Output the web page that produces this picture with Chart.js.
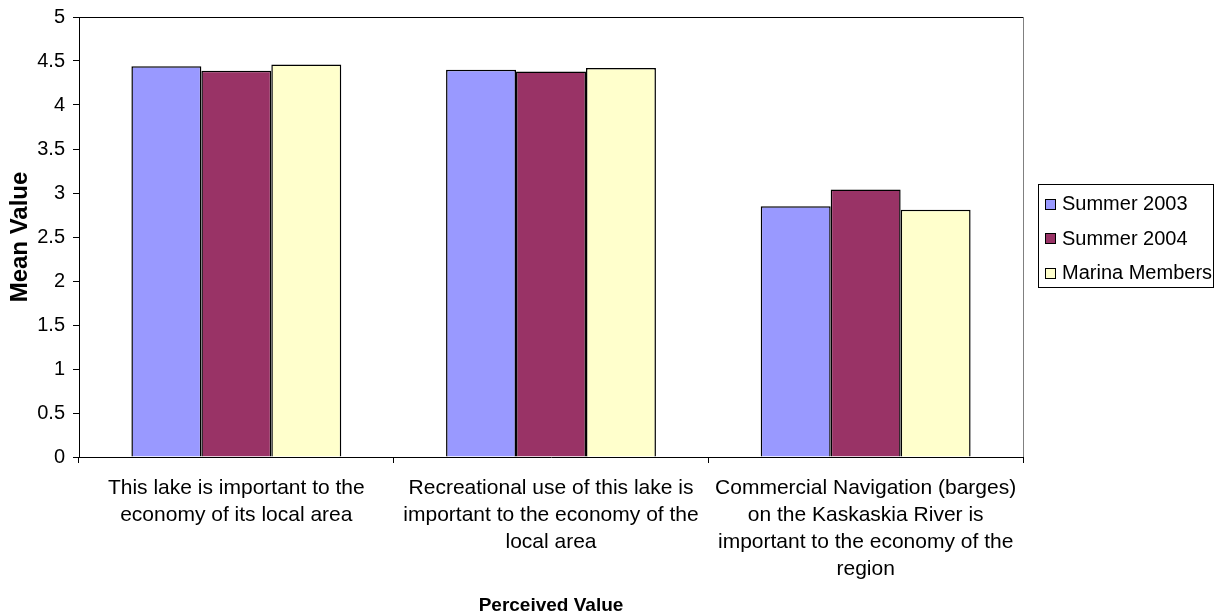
<!DOCTYPE html>
<html>
<head>
<meta charset="utf-8">
<script src="https://cdn.jsdelivr.net/npm/chart.js@4"></script>
<style>
  body { margin: 0; background: #fff; }
  #wrap { width: 1216px; height: 615px; position: relative; }
</style>
</head>
<body>
<div id="wrap"><canvas id="myChart"></canvas></div>
<script>
// categories (multi-line labels)
var categorias = [
    ['This lake is important to the', 'economy of its local area'],
    ['Recreational use of this lake is', 'important to the economy of the', 'local area'],
    ['Commercial Navigation (barges)', 'on the Kaskaskia River is', 'important to the economy of the', 'region']
];
var verao2003 = [4.44, 4.40, 2.85];
var verao2004 = [4.39, 4.38, 3.04];
var marina = [4.46, 4.42, 2.81];
var nomesSeries = ['Summer 2003', 'Summer 2004', 'Marina Members'];
var coresSeries = ['#9999FF', '#993366', '#FFFFCC'];

var fonte = 'Liberation Sans, Arial, sans-serif';

// moldura do gráfico + legenda desenhada à mão
var molduraLegenda = {
    id: 'molduraLegenda',
    afterDatasetsDraw: function (chart) {
        var ctx = chart.ctx;
        var a = chart.chartArea;
        ctx.save();
        ctx.lineWidth = 1;
        ctx.strokeStyle = '#000';
        ctx.beginPath();
        ctx.moveTo(a.left, a.top + 0.5);
        ctx.lineTo(a.right, a.top + 0.5);
        ctx.stroke();
        ctx.strokeStyle = '#808080';
        ctx.beginPath();
        ctx.moveTo(a.right + 0.5, a.top);
        ctx.lineTo(a.right + 0.5, a.bottom);
        ctx.stroke();

        // legenda
        var lx = 1038, ly = 184, lw = 175, lh = 103;
        ctx.strokeStyle = '#000';
        ctx.strokeRect(lx + 0.5, ly + 0.5, lw, lh);
        ctx.font = '20px ' + fonte;
        ctx.textBaseline = 'middle';
        ctx.fillStyle = '#000';
        chart.data.datasets.forEach(function (ds, i) {
            var cy = 203.5 + i * 34.5;
            ctx.fillStyle = ds.backgroundColor;
            ctx.fillRect(1045, Math.round(cy - 5), 11, 11);
            ctx.strokeStyle = '#000';
            ctx.strokeRect(1045.5, Math.round(cy - 5) + 0.5, 10, 10);
            ctx.fillStyle = '#000';
            ctx.fillText(ds.label, 1062, cy + 1);
        });
        ctx.restore();
    }
};

document.addEventListener('DOMContentLoaded', function () {
    var ctx = document.getElementById('myChart').getContext('2d');
    var dados = [verao2003, verao2004, marina];
    var myChart = new Chart(ctx, {
        type: 'bar',
        data: {
            labels: categorias,
            datasets: dados.map(function (valores, i) {
                return {
                    label: nomesSeries[i],
                    data: valores,
                    backgroundColor: coresSeries[i],
                    borderColor: '#000',
                    borderWidth: 1.5,
                    categoryPercentage: 0.667,
                    barPercentage: 1.0
                };
            })
        },
        options: {
            responsive: true,
            maintainAspectRatio: false,
            animation: false,
            layout: { padding: { top: 17, right: 193, left: 0, bottom: 0 } },
            plugins: {
                legend: { display: false },
                tooltip: { enabled: false }
            },
            scales: {
                y: {
                    min: 0,
                    max: 5,
                    ticks: {
                        stepSize: 0.5,
                        color: '#000',
                        padding: 8,
                        font: { family: fonte, size: 20 },
                        callback: function (v) { return String(v); }
                    },
                    grid: {
                        drawOnChartArea: false,
                        tickLength: 6,
                        color: '#000'
                    },
                    border: { color: '#000' },
                    title: {
                        display: true,
                        text: 'Mean Value',
                        color: '#000',
                        font: { family: fonte, size: 24, weight: 'bold', lineHeight: 1.2 },
                        padding: { top: 6, bottom: 0 }
                    },
                    afterFit: function (scale) {
                        scale.width = 79;
                        scale.paddingTop = 0;
                        scale.paddingBottom = 0;
                    }
                },
                x: {
                    ticks: {
                        color: '#000',
                        padding: 12,
                        maxRotation: 0,
                        autoSkip: false,
                        font: { family: fonte, size: 21, lineHeight: 1.286 }
                    },
                    grid: {
                        offset: true,
                        drawOnChartArea: false,
                        tickLength: 6,
                        color: '#000'
                    },
                    border: { color: '#000' },
                    title: {
                        display: true,
                        text: 'Perceived Value',
                        color: '#000',
                        font: { family: fonte, size: 19, weight: 'bold', lineHeight: 1 },
                        padding: { top: 0, bottom: 0 }
                    },
                    afterFit: function (scale) { scale.height = 158; }
                }
            }
        },
        plugins: [molduraLegenda]
    });
});
</script>
</body>
</html>
